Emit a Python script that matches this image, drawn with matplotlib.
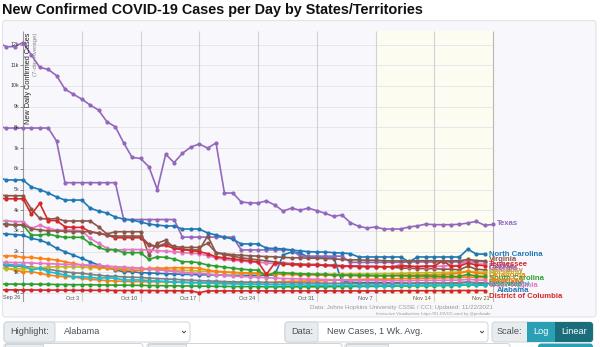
import matplotlib
matplotlib.use("Agg")
import matplotlib.pyplot as plt
import matplotlib.dates as mdates
from matplotlib.patches import Rectangle, FancyBboxPatch
import pandas as pd

plt.rcParams['font.family'] = ['Liberation Sans', 'DejaVu Sans']

# ---------------- data (7-day average new cases, thousands) ----------------
start_date = "2021-09-23"
week_ticks = ["2021-09-26", "2021-10-03", "2021-10-10", "2021-10-17", "2021-10-24",
              "2021-10-31", "2021-11-07", "2021-11-14", "2021-11-21"]
week_labels = ["Sep 26", "Oct 3", "Oct 10", "Oct 17", "Oct 24", "Oct 31", "Nov 7", "Nov 14", "Nov 21"]
y_ticks = list(range(0, 13))
y_labels = ["0"] + [f"{k}k" for k in range(1, 13)]

alabama = [2.9, 2.85, 2.82,
           2.79, 2.64, 2.56, 2.4, 2.16, 1.99, 1.83,
           1.67, 1.51, 1.35, 1.24, 1.11, 1.03, 1.03,
           0.98, 0.97, 0.95, 0.93, 0.92, 0.9, 0.9,
           0.88, 0.88, 0.87, 0.86, 0.85, 0.85, 0.85,
           0.85, 0.86, 0.87, 1.84, 1.98, 1.93, 1.74,
           1.74, 1.74, 1.74, 0.55, 0.52, 0.5, 0.5,
           0.5, 0.5, 0.48, 0.5, 0.47, 0.48, 0.48,
           0.48, 0.47, 0.47, 0.5, 0.52, 0.48, 0.46,
           0.45]
arkansas = [1.22, 1.19, 1.11,
            1.03, 1.03, 0.95, 0.87, 0.82, 0.79, 0.78,
            0.71, 0.66, 0.63, 0.6, 0.58, 0.56, 0.55,
            0.55, 0.54, 0.54, 0.53, 0.52, 0.52, 0.5,
            0.5, 0.5, 0.5, 0.49, 0.49, 0.5, 0.5,
            0.5, 0.5, 0.52, 0.55, 0.56, 0.57, 0.58,
            0.58, 0.6, 0.62, 0.63, 0.64, 0.65, 0.66,
            0.66, 0.67, 0.68, 0.7, 0.7, 0.71, 0.72,
            0.72, 0.73, 0.74, 0.74, 0.78, 0.75, 0.74]
delaware = [0.44, 0.43, 0.43,
            0.43, 0.43, 0.42, 0.42, 0.41, 0.41, 0.4,
            0.4, 0.4, 0.39, 0.39, 0.38, 0.38, 0.37,
            0.37, 0.36, 0.36, 0.35, 0.35, 0.34, 0.34,
            0.33, 0.33, 0.32, 0.32, 0.31, 0.31, 0.31,
            0.31, 0.3, 0.3, 0.3, 0.3, 0.3, 0.3,
            0.3, 0.3, 0.31, 0.31, 0.31, 0.32, 0.32,
            0.32, 0.33, 0.33, 0.34, 0.34, 0.35, 0.35,
            0.35, 0.36, 0.36, 0.37, 0.4, 0.38, 0.38]
district_of_columbia = [0.16, 0.15, 0.15,
                        0.15, 0.15, 0.14, 0.14, 0.14, 0.14, 0.13,
                        0.13, 0.13, 0.13, 0.13, 0.12, 0.12, 0.12,
                        0.12, 0.12, 0.11, 0.11, 0.11, 0.1, 0.1,
                        0.02, 0.1, 0.1, 0.1, 0.1, 0.1, 0.1,
                        0.1, 0.1, 0.1, 0.1, 0.1, 0.1, 0.1,
                        0.1, 0.1, 0.1, 0.1, 0.1, 0.1, 0.1,
                        0.1, 0.1, 0.1, 0.11, 0.11, 0.11, 0.11,
                        0.11, 0.11, 0.11, 0.12, 0.12, 0.12, 0.12]
florida = [8.05, 7.97, 7.97,
           7.97, 7.97, 7.97, 7.97, 7.34, 5.33, 5.33,
           5.33, 5.33, 5.33, 5.33, 5.33, 3.55, 3.55,
           3.55, 3.55, 3.55, 3.55, 3.55, 2.7, 2.7,
           2.7, 2.7, 2.7, 2.7, 2.7, 2.08, 2.08,
           2.08, 2.08, 2.08, 2.08, 2.08, 1.78, 1.78,
           1.78, 1.78, 1.78, 1.78, 1.48, 1.48, 1.48,
           1.48, 1.48, 1.48, 1.48, 1.5, 1.5, 1.5,
           1.5, 1.5, 1.5, 1.5, 1.52, 1.52, 1.52]
georgia = [4.75, 4.7, 4.7,
           4.7, 4.05, 3.6, 3.57, 3.6, 3.48, 3.48,
           3.48, 3.48, 3.2, 2.85, 2.96, 2.96, 2.96,
           2.96, 1.85, 2.4, 2.56, 2.17, 2.12, 2.08,
           2.08, 2.75, 1.95, 1.85, 1.78, 1.7, 1.65,
           1.6, 1.55, 1.5, 1.45, 1.42, 1.4, 1.38,
           1.38, 1.35, 1.35, 1.32, 1.3, 1.3, 1.28,
           1.28, 1.25, 1.25, 1.2, 1.2, 1.18, 1.18,
           1.18, 1.15, 1.15, 1.12, 1.3, 1.15, 1.12]
kentucky = [3.5, 3.49, 3.45,
            3.45, 3.12, 3.28, 3.12, 3.04, 3.04, 3.04,
            3.0, 2.64, 2.4, 2.16, 2.07, 2.1, 2.1,
            2.1, 2.07, 2.05, 2.02, 2.0, 1.95, 1.92,
            1.9, 1.8, 1.7, 1.62, 1.58, 1.55, 1.5,
            1.48, 1.45, 1.42, 1.4, 1.38, 1.36, 1.35,
            1.35, 1.33, 1.3, 1.28, 1.28, 1.27, 1.27,
            1.27, 1.25, 1.25, 1.38, 1.26, 1.27, 1.28,
            1.28, 1.3, 1.32, 1.33, 1.6, 1.4, 1.4]
louisiana = [1.35, 1.32, 1.3,
             1.28, 1.25, 1.2, 1.15, 1.08, 1.02, 0.98,
             0.95, 0.9, 0.86, 0.82, 0.8, 0.78, 0.76,
             0.75, 0.72, 0.7, 0.68, 0.66, 0.64, 0.62,
             0.6, 0.58, 0.57, 0.55, 0.54, 0.53, 0.52,
             0.52, 0.51, 0.5, 0.5, 0.49, 0.49, 0.48,
             0.48, 0.47, 0.47, 0.46, 0.46, 0.45, 0.45,
             0.45, 0.45, 0.45, 0.46, 0.46, 0.47, 0.47,
             0.47, 0.48, 0.48, 0.49, 0.52, 0.5, 0.5]
maryland = [1.2, 1.18, 1.17,
            1.17, 1.2, 1.22, 1.25, 1.27, 1.27, 1.26,
            1.25, 1.23, 1.22, 1.2, 1.2, 1.2, 1.2,
            1.2, 1.15, 1.13, 1.12, 1.1, 1.1, 1.08,
            1.06, 1.04, 1.02, 1.0, 0.98, 0.96, 0.95,
            0.94, 0.93, 0.92, 0.91, 0.9, 0.9, 0.9,
            0.9, 0.9, 0.9, 0.91, 0.92, 0.92, 0.92,
            0.93, 0.93, 0.94, 0.95, 0.96, 0.97, 0.98,
            0.98, 0.99, 1.0, 1.01, 1.05, 1.02, 1.0]
mississippi = [1.4, 1.39, 1.35,
               1.35, 1.11, 1.19, 1.03, 0.95, 0.87, 0.79,
               0.79, 0.76, 0.71, 0.74, 0.71, 0.63, 0.63,
               0.63, 0.6, 0.58, 0.56, 0.54, 0.52, 0.5,
               0.5, 0.48, 0.46, 0.45, 0.44, 0.43, 0.42,
               0.42, 0.41, 0.4, 0.4, 0.39, 0.39, 0.38,
               0.38, 0.38, 0.37, 0.37, 0.37, 0.36, 0.36,
               0.36, 0.36, 0.36, 0.37, 0.37, 0.38, 0.38,
               0.38, 0.38, 0.39, 0.39, 0.42, 0.4, 0.4]
north_carolina = [5.6, 5.46, 5.46,
                  5.46, 5.12, 5.0, 4.83, 4.64, 4.49, 4.49,
                  4.49, 4.1, 3.96, 3.86, 3.67, 3.57, 3.52,
                  3.43, 3.33, 3.28, 3.24, 3.24, 3.09, 3.09,
                  3.09, 2.9, 2.8, 2.7, 2.6, 2.37, 2.37,
                  2.37, 2.17, 2.15, 2.13, 2.08, 2.03, 2.0,
                  1.98, 1.98, 1.95, 1.93, 1.9, 1.74, 1.74,
                  1.74, 1.74, 1.74, 1.74, 1.5, 1.74, 1.74,
                  1.74, 1.74, 1.74, 1.74, 2.12, 1.88, 1.88]
oklahoma = [1.8, 1.79, 1.79,
            1.72, 1.72, 1.67, 1.64, 1.59, 1.51, 1.43,
            1.35, 1.3, 1.25, 1.2, 1.15, 1.12, 1.1,
            1.1, 1.19, 1.2, 1.2, 1.22, 1.22, 1.22,
            1.2, 1.1, 1.05, 1.02, 1.0, 0.98, 0.97,
            0.95, 0.94, 0.92, 0.9, 0.9, 0.88, 0.88,
            0.87, 0.86, 0.85, 0.85, 0.84, 0.84, 0.83,
            0.83, 0.83, 0.85, 0.88, 0.86, 0.87, 0.88,
            0.88, 0.9, 0.92, 0.95, 1.05, 0.95, 0.93]
south_carolina = [3.35, 3.33, 3.28,
                  3.28, 2.8, 2.8, 2.85, 2.75, 2.69, 2.69,
                  2.69, 2.4, 2.2, 2.07, 2.1, 1.95, 1.95,
                  1.95, 1.62, 1.75, 1.72, 1.64, 1.51, 1.51,
                  1.46, 1.35, 1.3, 1.25, 1.2, 1.15, 1.12,
                  1.1, 0.8, 1.0, 0.98, 0.95, 0.93, 0.92,
                  0.9, 0.9, 0.88, 0.87, 0.86, 0.85, 0.85,
                  0.84, 0.84, 0.83, 0.83, 0.82, 0.82, 0.82,
                  0.81, 0.8, 0.8, 0.8, 0.9, 0.82, 0.8]
tennessee = [4.6, 4.55, 4.55,
             4.55, 3.8, 4.33, 3.5, 3.5, 3.2, 3.17,
             3.17, 2.96, 2.88, 2.8, 2.67, 2.67, 2.67,
             2.67, 2.3, 2.25, 2.3, 2.15, 2.1, 2.05,
             2.0, 1.9, 1.75, 1.7, 1.65, 1.6, 1.55,
             1.5, 0.9, 1.45, 1.4, 1.38, 1.36, 1.35,
             1.35, 1.33, 1.32, 1.3, 1.3, 1.28, 1.28,
             1.28, 1.27, 1.27, 1.3, 1.3, 1.28, 1.3,
             1.3, 1.55, 1.3, 1.3, 1.45, 1.35, 1.32]
texas = [12.1, 11.9, 11.9,
         12.1, 11.5, 10.9, 10.8, 10.5, 9.85, 9.6,
         9.37, 9.08, 8.84, 8.27, 8.03, 7.25, 6.55,
         6.5, 6.1, 5.0, 6.7, 6.3, 6.75, 7.05,
         7.2, 7.0, 7.25, 4.83, 4.83, 4.4, 4.35,
         4.35, 4.45, 4.25, 3.96, 4.1, 4.0, 4.1,
         3.98, 3.85, 3.7, 3.77, 3.4, 3.22, 3.14,
         3.19, 3.09, 3.09, 3.09, 3.19, 3.24, 3.33,
         3.3, 3.3, 3.3, 3.32, 3.38, 3.46, 3.27,
         3.31]
virginia = [3.35, 3.3, 3.3,
            3.3, 3.1, 3.05, 3.0, 3.0, 2.98, 2.96,
            2.96, 2.96, 2.9, 2.8, 2.75, 2.75, 2.75,
            2.75, 2.35, 2.25, 2.4, 2.25, 2.2, 2.2,
            2.2, 2.4, 1.95, 1.9, 1.85, 1.82, 1.8,
            1.78, 1.76, 1.75, 1.72, 1.7, 1.7, 1.68,
            1.68, 1.66, 1.65, 1.62, 1.6, 1.6, 1.58,
            1.58, 1.56, 1.55, 1.55, 1.55, 1.56, 1.56,
            1.56, 1.55, 1.55, 1.56, 1.62, 1.57, 1.55]
west_virginia = [1.5, 1.48, 1.47,
                 1.47, 1.45, 1.43, 1.42, 1.4, 1.38, 1.37,
                 1.36, 1.35, 1.33, 1.3, 1.27, 1.25, 1.22,
                 1.2, 1.16, 1.12, 1.08, 1.04, 1.0, 0.97,
                 0.95, 0.92, 0.88, 0.85, 0.82, 0.8, 0.78,
                 0.76, 0.74, 0.72, 0.7, 0.69, 0.68, 0.67,
                 0.66, 0.65, 0.64, 0.63, 0.62, 0.62, 0.61,
                 0.61, 0.6, 0.6, 0.6, 0.6, 0.61, 0.61,
                 0.61, 0.61, 0.62, 0.62, 0.66, 0.63, 0.62]

# ---------------- styling ----------------
C10 = ['#1f77b4', '#ff7f0e', '#2ca02c', '#d62728', '#9467bd',
       '#8c564b', '#e377c2', '#7f7f7f', '#bcbd22', '#17becf']
series = [
    ("Alabama", alabama), ("Arkansas", arkansas), ("Delaware", delaware),
    ("District of Columbia", district_of_columbia), ("Florida", florida),
    ("Georgia", georgia), ("Kentucky", kentucky), ("Louisiana", louisiana),
    ("Maryland", maryland), ("Mississippi", mississippi),
    ("North Carolina", north_carolina), ("Oklahoma", oklahoma),
    ("South Carolina", south_carolina), ("Tennessee", tennessee),
    ("Texas", texas), ("Virginia", virginia), ("West Virginia", west_virginia),
]
colors = {name: C10[i % 10] for i, (name, _) in enumerate(series)}

# label placement (pixel rows of the end labels in the reference)
label_row_px = {
    "Georgia": 268, "Kentucky": 270, "Louisiana": 282, "Mississippi": 284,
    "Delaware": 284.5, "Oklahoma": 275.5, "West Virginia": 285.5,
    "South Carolina": 278, "Arkansas": 280, "Maryland": 273,
    "Florida": 266, "Tennessee": 265, "Virginia": 259.5,
    "North Carolina": 255, "Texas": 224, "Alabama": 291,
    "District of Columbia": 297,
}

W, H = 600, 347
fig = plt.figure(figsize=(W / 100, H / 100), dpi=100)

# background / chrome axes in pixel coordinates
bg = fig.add_axes([0, 0, 1, 1], zorder=0)
bg.set_xlim(0, W)
bg.set_ylim(H, 0)
bg.axis('off')

bg.add_patch(FancyBboxPatch((2.5, 20.5), 593.5, 296.5, boxstyle="round,pad=0,rounding_size=3",
                            fc='#f8f8fc', ec='#e2e2e8', lw=0.8))
bg.text(2, 14.2, "New Confirmed COVID-19 Cases per Day by States/Territories",
        fontsize=10.4, fontweight='bold', color='#111', va='baseline', ha='left')
bg.text(493, 307.5, "Data: Johns Hopkins University CSSE / CCI; Updated: 11/22/2021",
        fontsize=4.5, color='#9a9a9a', ha='right', va='center')
bg.text(492, 314, "Interactive Visualization: https://91-DIVOC.com/ by @profwade.",
        fontsize=3.0, color='#9a9a9a', ha='right', va='center')


def input_group(x0, x1, addon_end, y0, y1, label, value=None, chevron=True):
    bg.add_patch(FancyBboxPatch((x0, y0), x1 - x0, y1 - y0,
                                boxstyle="round,pad=0,rounding_size=3",
                                fc='white', ec='#ced4da', lw=0.7))
    bg.add_patch(FancyBboxPatch((x0, y0), addon_end - x0, y1 - y0,
                                boxstyle="round,pad=0,rounding_size=3",
                                fc='#e9ecef', ec='#ced4da', lw=0.7))
    ym = (y0 + y1) / 2
    if label:
        bg.text(x0 + 6, ym, label, fontsize=6.6, color='#495057', ha='left', va='center')
    if value:
        bg.text(addon_end + 9, ym, value, fontsize=6.6, color='#495057', ha='left', va='center')
    if chevron:
        cx = x1 - 6
        bg.plot([cx - 1.6, cx, cx + 1.6], [ym - 0.8, ym + 0.9, ym - 0.8],
                color='#444', lw=0.7, solid_capstyle='round')


input_group(4, 190, 55, 322, 342, "Highlight:", "Alabama")
input_group(285, 488, 318, 322, 342, "Data:", "New Cases, 1 Wk. Avg.")
# scale selector
bg.add_patch(FancyBboxPatch((492, 322), 101, 20, boxstyle="round,pad=0,rounding_size=3",
                            fc='#e9ecef', ec='#ced4da', lw=0.7))
bg.text(497, 332, "Scale:", fontsize=6.6, color='#495057', ha='left', va='center')
bg.add_patch(Rectangle((527, 322), 28, 20, fc='#2ba0b4', ec='none'))
bg.add_patch(FancyBboxPatch((555, 322), 38, 20, boxstyle="round,pad=0,rounding_size=3",
                            fc='#1a6e7c', ec='none'))
bg.add_patch(Rectangle((555, 322), 6, 20, fc='#1a6e7c', ec='none'))
bg.text(541, 332, "Log", fontsize=6.6, color='white', ha='center', va='center')
bg.text(574, 332, "Linear", fontsize=6.6, color='white', ha='center', va='center')
# next row of controls (cut off by the image edge)
for (a, b, c) in [(4, 143, 42), (147, 342, 185), (345, 510, 387)]:
    bg.add_patch(FancyBboxPatch((a, 343.5), b - a, 12, boxstyle="round,pad=0,rounding_size=3",
                                fc='white', ec='#ced4da', lw=0.7))
    bg.add_patch(Rectangle((a + 0.5, 344), c - a, 11, fc='#e9ecef', ec='#ced4da', lw=0.7))
bg.add_patch(FancyBboxPatch((538, 343.5), 55, 12, boxstyle="round,pad=0,rounding_size=3",
                            fc='#2ba0b4', ec='none'))

# ---------------- main plot ----------------
px_per_day = (493 - 23) / 56.0
px_per_k = 20.7
left_px, right_px, top_px, bot_px, zero_px = 3, 596, 31, 302, 293
ax = fig.add_axes([left_px / W, 1 - bot_px / H, (right_px - left_px) / W, (bot_px - top_px) / H],
                  zorder=1)
ax.patch.set_alpha(0)
for s in ax.spines.values():
    s.set_visible(False)
ax.set_xticks([])
ax.set_yticks([])

t0 = mdates.date2num(pd.Timestamp(week_ticks[0]))
t1 = mdates.date2num(pd.Timestamp(week_ticks[-1]))
ax.set_xlim(t0 - (23 - left_px) / px_per_day, t1 + (right_px - 493) / px_per_day)
ymin = -(bot_px - zero_px) / px_per_k
ymax = (zero_px - top_px) / px_per_k
ax.set_ylim(ymin, ymax)

tick_nums = [mdates.date2num(pd.Timestamp(d)) for d in week_ticks]
ax.axvspan(tick_nums[6], tick_nums[8], color='#fcfcf1', zorder=0, lw=0)
ax.hlines(y_ticks, t0, t1, color='#e6e6ec', lw=0.7, zorder=0.5)
ax.vlines(tick_nums[1:-1], ymin, ymax, color='#d2d2d2', lw=0.8, zorder=0.6)
ax.vlines([tick_nums[-1]], ymin, ymax, color='#b8b8b8', lw=0.8, zorder=0.6)
ax.vlines([t0], ymin, ymax, color='#9a9a9a', lw=0.8, zorder=0.6)
ax.hlines(y_ticks, t0 - 3 / px_per_day, t0, color='#777', lw=0.6, zorder=0.6)
for yv, lab in zip(y_ticks, y_labels):
    ax.text(t0 - 4 / px_per_day, yv, lab, fontsize=3.8, color='#333', ha='right', va='center')
for tn, lab in zip(tick_nums, week_labels):
    ax.text(tn - 3 / px_per_day, -5 / px_per_k, lab, fontsize=4.0, color='#555',
            ha='right', va='center')

for name, vals in series:
    dates = pd.date_range(start_date, periods=len(vals))
    ax.plot(dates, vals, color=colors[name], lw=1.2, marker='o', markersize=3.0,
            markeredgewidth=0, zorder=2)

label_order = ["Georgia", "Kentucky", "Louisiana", "Mississippi", "Delaware", "Oklahoma",
               "West Virginia", "South Carolina", "Arkansas", "Maryland", "Florida",
               "Tennessee", "Virginia", "North Carolina", "Texas", "Alabama",
               "District of Columbia"]
series_dict = dict(series)
for name in label_order:
    vals = series_dict[name]
    last = pd.date_range(start_date, periods=len(vals))[-1]
    ax.text(mdates.date2num(last) + 4 / px_per_day, (zero_px - label_row_px[name]) / px_per_k,
            name, fontsize=5.6, fontweight='bold', color=colors[name],
            ha='left', va='center', clip_on=False, zorder=3)

ax.text(t0 + 6 / px_per_day, ymax - 2 / px_per_k, "New Daily Confirmed Cases", rotation=90,
        fontsize=5.3, color='#222', ha='center', va='top', zorder=3)
ax.text(t0 + 13 / px_per_day, ymax - 2 / px_per_k, "(7-day Average)", rotation=90,
        fontsize=4.4, color='#888', ha='center', va='top', zorder=3)

fig.savefig("out.png", dpi=100)
